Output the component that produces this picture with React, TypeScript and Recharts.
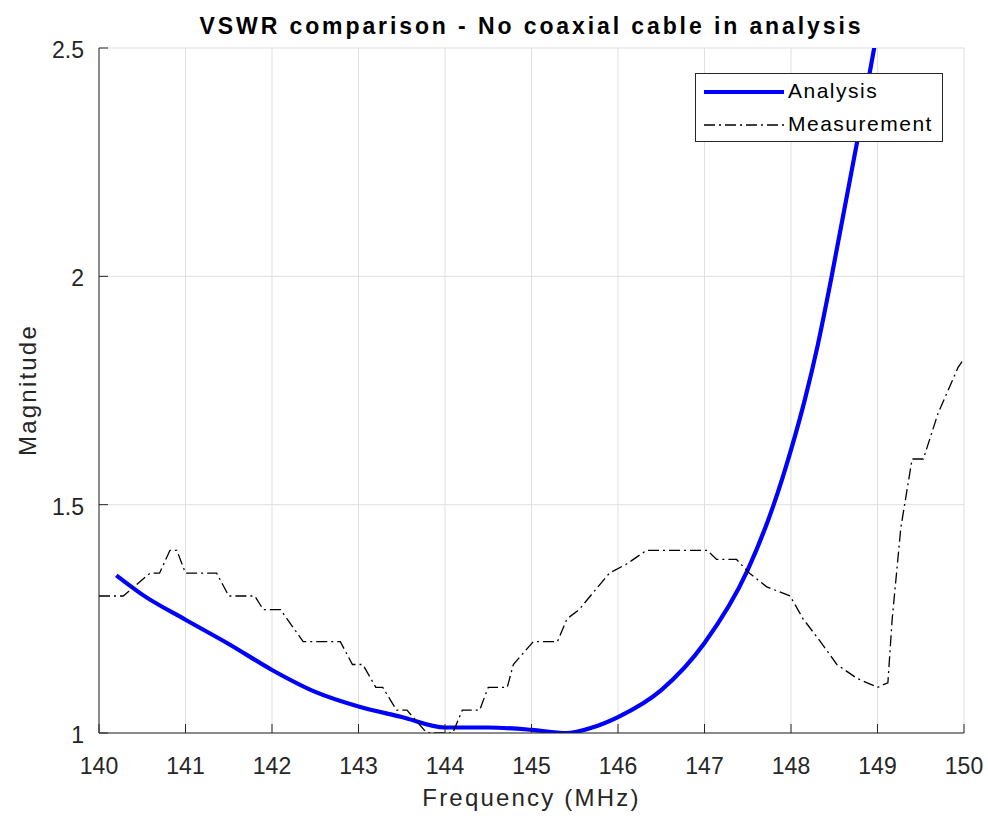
import { LineChart, Line, XAxis, YAxis, CartesianGrid, Legend } from "recharts";

// Analysis (smooth simulated curve)
const analysisFreq = [
  140.2, 140.5, 141, 141.5, 142, 142.5, 143, 143.5, 144, 144.5, 145, 145.4,
  145.7, 146, 146.5, 147, 147.5, 147.8, 148, 148.16, 148.31, 148.46, 148.77, 149.0,
];
const analysisVswr = [
  1.345, 1.303, 1.248, 1.195, 1.138, 1.09, 1.058, 1.035, 1.012, 1.012, 1.007, 1.0,
  1.012, 1.035, 1.094, 1.197, 1.357, 1.5, 1.62, 1.73, 1.85, 1.99, 2.3, 2.54,
];

// Measurement (stepped VNA readout)
const measFreq = [
  140.0, 140.28, 140.59, 140.7, 140.82, 140.9, 141.0, 141.36, 141.5, 141.8,
  141.9, 142.1, 142.36, 142.79, 142.93, 143.05, 143.2, 143.28, 143.44, 143.56,
  143.79, 144.09, 144.2, 144.4, 144.5, 144.72, 144.79, 145.02, 145.3, 145.41,
  145.55, 145.68, 145.9, 146.1, 146.33, 147.03, 147.14, 147.37, 147.52, 147.72,
  147.99, 148.14, 148.34, 148.53, 148.76, 149.0, 149.12, 149.17, 149.27, 149.4,
  149.53, 149.7, 149.93, 150.0,
];
const measVswr = [
  1.3, 1.3, 1.35, 1.35, 1.4, 1.4, 1.35, 1.35, 1.3, 1.3,
  1.27, 1.27, 1.2, 1.2, 1.15, 1.15, 1.1, 1.1, 1.05, 1.05,
  1.0, 1.0, 1.05, 1.05, 1.1, 1.1, 1.15, 1.2, 1.2, 1.25,
  1.27, 1.3, 1.35, 1.37, 1.4, 1.4, 1.38, 1.38, 1.35, 1.32,
  1.3, 1.25, 1.2, 1.15, 1.12, 1.1, 1.11, 1.25, 1.45, 1.6,
  1.6, 1.7, 1.8, 1.82,
];

const xTicks = [140, 141, 142, 143, 144, 145, 146, 147, 148, 149, 150];
const yTicks = [1, 1.5, 2, 2.5];

const analysisData = analysisFreq.map((f, i) => ({ f, v: analysisVswr[i] }));
const measData = measFreq.map((f, i) => ({ f, v: measVswr[i] }));

const INK = "#262626";
const FONT = "'Liberation Sans', Arial, Helvetica, sans-serif";
const TICK_LEN = 9;

const BottomTick = (p: any) => (
  <g>
    <line x1={p.x} y1={p.y} x2={p.x} y2={p.y - TICK_LEN} stroke={INK} />
    <text x={p.x} y={p.y + 41} textAnchor="middle" fontSize={23} fill={INK} fontFamily={FONT}>
      {p.payload.value}
    </text>
  </g>
);
const TopTick = (p: any) => (
  <line x1={p.x} y1={p.y} x2={p.x} y2={p.y + TICK_LEN} stroke={INK} />
);
const LeftTick = (p: any) => (
  <g>
    <line x1={p.x} y1={p.y} x2={p.x + TICK_LEN} y2={p.y} stroke={INK} />
    <text x={p.x - 15} y={p.y + 10} textAnchor="end" fontSize={23} fill={INK} fontFamily={FONT}>
      {p.payload.value}
    </text>
  </g>
);
const RightTick = (p: any) => (
  <line x1={p.x} y1={p.y} x2={p.x - TICK_LEN} y2={p.y} stroke={INK} />
);

const LegendBox = (props: any) => {
  const items = props.payload || [];
  return (
    <div
      style={{
        width: 248,
        height: 69,
        border: `1px solid ${INK}`,
        background: "#fff",
        boxSizing: "border-box",
        fontFamily: FONT,
        fontSize: 21,
        letterSpacing: 1.5,
        color: "#000",
      }}
    >
      {items.map((it: any) => {
        const src = it.payload || {};
        return (
          <div key={it.value} style={{ display: "flex", alignItems: "center", height: 32, marginTop: 1 }}>
            <svg width={92} height={32}>
              <line
                x1={8}
                x2={88}
                y1={17}
                y2={17}
                stroke={it.color}
                strokeWidth={src.strokeWidth || 1}
                strokeDasharray={src.strokeDasharray}
              />
            </svg>
            <span>{it.value}</span>
          </div>
        );
      })}
    </div>
  );
};

export default function App() {
  return (
    <div style={{ position: "absolute", left: 0, top: 0, width: 988, height: 819, background: "#fff" }}>
      <div
        style={{
          position: "absolute",
          left: 99,
          width: 865,
          top: 13,
          textAlign: "center",
          fontFamily: FONT,
          fontWeight: "bold",
          fontSize: 23,
          letterSpacing: 2.9,
          color: "#000",
        }}
      >
        VSWR comparison - No coaxial cable in analysis
      </div>
      <div
        style={{
          position: "absolute",
          left: 99,
          width: 865,
          top: 784,
          textAlign: "center",
          fontFamily: FONT,
          fontSize: 24,
          letterSpacing: 2.2,
          color: INK,
        }}
      >
        Frequency (MHz)
      </div>
      <div
        style={{
          position: "absolute",
          left: 28,
          top: 390,
          transform: "translate(-50%, -50%) rotate(-90deg)",
          fontFamily: FONT,
          fontSize: 24,
          letterSpacing: 2.2,
          color: INK,
          whiteSpace: "nowrap",
        }}
      >
        Magnitude
      </div>
      <LineChart
        width={988}
        height={819}
        margin={{ top: 48, right: 24, bottom: 0, left: 0 }}
        style={{ position: "absolute", left: 0, top: 0 }}
      >
        <CartesianGrid xAxisId="b" yAxisId="l" stroke="#dfdfdf" />
        <XAxis
          xAxisId="b"
          dataKey="f"
          type="number"
          domain={[140, 150]}
          ticks={xTicks}
          interval={0}
          height={86}
          tickSize={0}
          tickMargin={0}
          tickLine={false}
          axisLine={{ stroke: INK }}
          tick={BottomTick}
          allowDuplicatedCategory={false}
        />
        <XAxis
          xAxisId="t"
          orientation="top"
          type="number"
          domain={[140, 150]}
          ticks={xTicks}
          interval={0}
          height={0}
          tickSize={0}
          tickMargin={0}
          tickLine={false}
          axisLine={{ stroke: INK }}
          tick={TopTick}
        />
        <YAxis
          yAxisId="l"
          type="number"
          domain={[1, 2.5]}
          ticks={yTicks}
          interval={0}
          width={99}
          tickSize={0}
          tickMargin={0}
          tickLine={false}
          axisLine={{ stroke: INK }}
          tick={LeftTick}
          allowDataOverflow
        />
        <YAxis
          yAxisId="r"
          orientation="right"
          type="number"
          domain={[1, 2.5]}
          ticks={yTicks}
          interval={0}
          width={0}
          tickSize={0}
          tickMargin={0}
          tickLine={false}
          axisLine={{ stroke: INK }}
          tick={RightTick}
          allowDataOverflow
        />
        <Line
          xAxisId="b"
          yAxisId="l"
          data={analysisData}
          dataKey="v"
          name="Analysis"
          type="monotone"
          stroke="#0000ff"
          strokeWidth={4.2}
          dot={false}
          activeDot={false}
          isAnimationActive={false}
        />
        <Line
          xAxisId="b"
          yAxisId="l"
          data={measData}
          dataKey="v"
          name="Measurement"
          type="linear"
          stroke="#000000"
          strokeWidth={1.3}
          strokeDasharray="11 4 2 4"
          dot={false}
          activeDot={false}
          isAnimationActive={false}
        />
        <Legend
          layout="horizontal"
          verticalAlign="middle"
          align="center"
          content={LegendBox}
          wrapperStyle={{ position: "absolute", left: 695, top: 73, width: 248, height: 69 }}
        />
      </LineChart>
    </div>
  );
}
